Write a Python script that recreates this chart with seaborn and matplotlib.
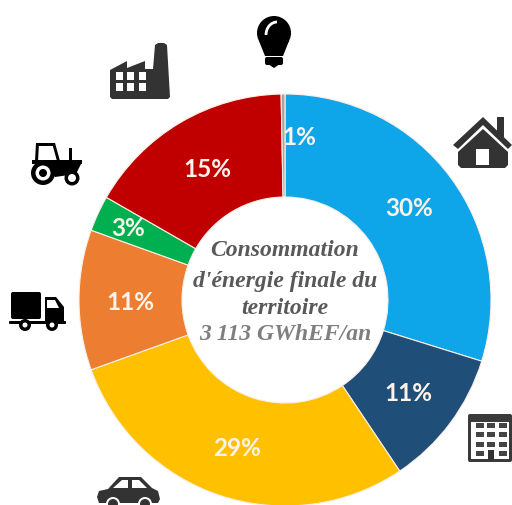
import matplotlib
matplotlib.use("Agg")
import matplotlib.pyplot as plt
from matplotlib.patches import Circle, Polygon, Rectangle, FancyBboxPatch, Arc
import seaborn as sns

sns.set_theme(style="white")

# valeurs (sens horaire depuis le haut)
secteurs = ["Residentiel", "Tertiaire", "Transport personnes", "Fret", "Agriculture", "Industrie", "Autres"]
parts = [29.8, 10.8, 28.9, 11.0, 2.8, 16.4, 0.3]
etiquettes = ["30%", "11%", "29%", "11%", "3%", "15%", "1%"]
couleurs = ["#0FA5E9", "#1F4E79", "#FFC000", "#ED7D31", "#00B050", "#C00000", "#A6A6A6"]
titre = ["Consommation", "d'énergie finale du", "territoire", "3 113 GWhEF/an"]

W, H = 512, 506
fig = plt.figure(figsize=(W / 100, H / 100), dpi=100)

# anneau
cx, cy, r = 285, 301, 206
ax = fig.add_axes([(cx - r) / W, 1 - (cy + r) / H, 2 * r / W, 2 * r / H])
ax.pie(parts, colors=sns.color_palette(couleurs), startangle=90, counterclock=False,
       radius=1, wedgeprops=dict(width=0.5, edgecolor="#fbeee6", linewidth=0.8, clip_on=False))
ax.set_xlim(-1, 1)
ax.set_ylim(-1, 1)
ax.axis("off")

# calque en pixels pour les textes et les pictos
px = fig.add_axes([0, 0, 1, 1], zorder=5)
px.set_xlim(0, W)
px.set_ylim(H, 0)
px.axis("off")

pos_etiquettes = [(409, 209), (408, 394), (237, 449), (130, 302), (128, 228), (207, 169), (299, 137)]
for (x, y), t in zip(pos_etiquettes, etiquettes):
    px.text(x, y, t, color="#fdf3ea", fontsize=17.5, fontweight="bold", family="Lato", ha="center", va="center")

pos_titre = [251, 281, 308, 335]
coul_titre = ["#595959", "#595959", "#595959", "#7f7f7f"]
for y, t, c in zip(pos_titre, titre, coul_titre):
    px.text(285, y, t, color=c, fontsize=17, fontweight="bold", fontstyle="italic",
            family="Liberation Serif", ha="center", va="center")


def rect(x0, y0, x1, y1, c, z=6):
    px.add_patch(Rectangle((x0, y0), x1 - x0, y1 - y0, fc=c, ec="none", zorder=z))


def poly(pts, c, z=6):
    px.add_patch(Polygon(pts, closed=True, fc=c, ec="none", zorder=z))


def rond(x, y, rr, c, z=6):
    px.add_patch(Circle((x, y), rr, fc=c, ec="none", zorder=z))


def boite(x0, y0, x1, y1, c, arrondi=2, z=6):
    px.add_patch(FancyBboxPatch((x0 + arrondi, y0 + arrondi), x1 - x0 - 2 * arrondi, y1 - y0 - 2 * arrondi,
                                boxstyle="round,pad=%s" % arrondi, fc=c, ec="none", zorder=z))


noir = "#000000"
gris = "#333333"
blanc = "#ffffff"

# ampoule
rond(274, 34, 17, noir)
poly([(259, 42), (289, 42), (283, 57), (265, 57)], noir)
boite(265, 58, 283, 66, noir)
poly([(268, 65), (280, 65), (274, 69)], noir)
px.add_patch(Arc((277, 36), 22, 26, theta1=180, theta2=270, color=blanc, lw=2, zorder=7))

# usine
poly([(110, 71), (127, 62), (127, 69), (145, 62), (145, 70), (153, 70), (155, 46), (158, 44), (164, 44),
      (167, 46), (170, 98), (168, 100), (112, 100), (110, 98)], gris)
for y0 in (73, 84):
    for x0 in (116, 127, 139):
        rect(x0, y0, x0 + 7, y0 + 8, blanc, 7)

# tracteur
rect(36, 144, 55, 147, noir)
poly([(36, 144), (39, 144), (38, 162), (35, 162)], noir)
poly([(52, 144), (55, 144), (60, 162), (57, 162)], noir)
rect(32, 161, 82, 165, noir)
poly([(45, 165), (81, 165), (76, 175), (55, 178)], noir)
rect(69, 149, 72, 162, noir)
rond(43, 174, 12, noir, 7)
rond(43, 174, 7.5, blanc, 7)
rond(43, 174, 4, noir, 7)
rond(72, 179, 7.5, noir, 7)
rond(72, 179, 4, blanc, 7)

# camion
boite(11, 293, 41, 320, noir)
poly([(45, 298), (56, 298), (64, 308), (64, 322), (45, 322)], noir)
poly([(47, 301), (55, 301), (59, 309), (47, 309)], blanc, 7)
boite(9, 322, 66, 325, noir, 1)
for x in (25, 52):
    rond(x, 326, 6, noir, 7)
    rond(x, 326, 2.5, blanc, 7)

# voiture
poly([(108, 490), (119, 478), (141, 478), (152, 489), (158, 492), (160, 500), (158, 504), (99, 504), (97, 498), (99, 492)], gris)
poly([(113, 489), (122, 481), (128, 481), (128, 489)], blanc, 7)
poly([(132, 481), (139, 481), (147, 489), (132, 489)], blanc, 7)
for x in (113, 145):
    rond(x, 505, 7, blanc, 7)
    rond(x, 505, 5, gris, 7)

# maison
rect(497, 118, 504, 138, gris)
poly([(483, 118), (512, 146), (508, 150), (483, 126), (458, 150), (453, 146)], gris)
poly([(483, 130), (508, 153), (508, 166), (505, 169), (461, 169), (458, 166), (458, 153)], gris)
rect(476, 150, 489, 166, blanc, 7)

# immeuble
boite(468, 415, 512, 463, "#3a3a3a", 2)
rect(471, 423, 509, 460, blanc, 7)
for y0 in (424, 433, 443, 452):
    for x0 in (476, 487, 499):
        if not (x0 == 487 and y0 == 452):
            rect(x0, y0, x0 + 8, y0 + 5, "#444444", 8)
rect(488, 451, 494, 461, "#333333", 8)

fig.savefig("out.png", dpi=100)
